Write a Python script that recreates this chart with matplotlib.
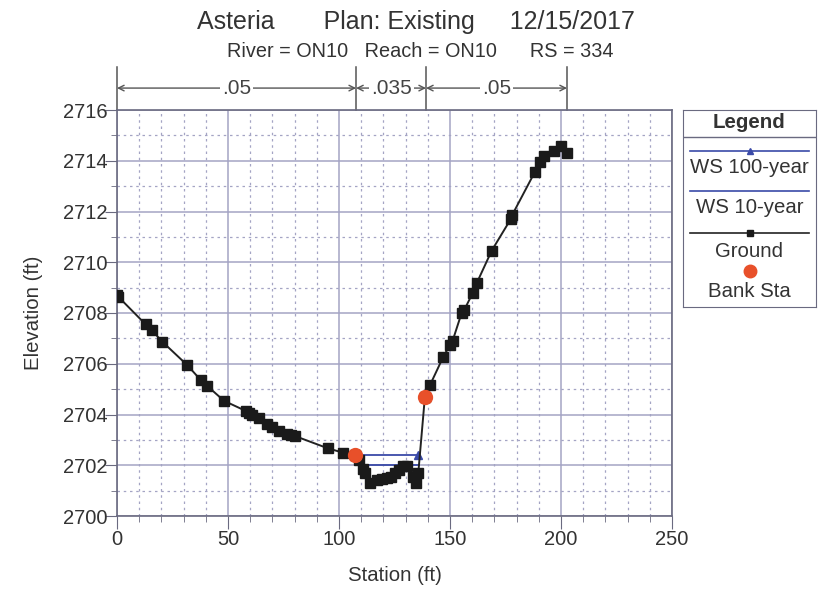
import matplotlib
matplotlib.use('Agg')
import matplotlib.pyplot as plt
from matplotlib.ticker import MultipleLocator

plt.rcParams['font.family'] = ['Liberation Sans', 'DejaVu Sans']

# ground profile (station ft, elevation ft)
ground_sta = [0, 0.6, 12.9, 15.6, 20.4, 31.7, 37.7, 40.7, 48.2, 58.0, 59.5, 61.0,
              64.0, 67.4, 69.7, 73.0, 76.4, 78.2, 80.2, 94.9, 101.6, 107.2, 109.2,
              111.0, 111.7, 114.0, 117.0, 119.2, 121.5, 123.4, 125.2, 127.0, 129.0,
              130.5, 133.5, 134.7, 135.7, 138.7, 141.0, 147.0, 150.0, 151.2, 155.2,
              156.4, 160.2, 162.0, 168.8, 177.3, 178.0, 188.3, 190.5, 192.5, 196.7,
              200.0, 202.6]
ground_elev = [2708.7, 2708.64, 2707.55, 2707.33, 2706.87, 2705.94, 2705.36, 2705.12,
               2704.54, 2704.14, 2704.05, 2703.98, 2703.87, 2703.63, 2703.5, 2703.36,
               2703.22, 2703.19, 2703.15, 2702.67, 2702.5, 2702.4, 2702.21, 2701.84,
               2701.68, 2701.31, 2701.42, 2701.45, 2701.48, 2701.55, 2701.71, 2701.81,
               2701.97, 2701.97, 2701.55, 2701.29, 2701.68, 2704.7, 2705.16, 2706.28,
               2706.74, 2706.91, 2707.99, 2708.12, 2708.78, 2709.17, 2710.46, 2711.69,
               2711.86, 2713.57, 2713.95, 2714.2, 2714.4, 2714.57, 2714.32]

# water surfaces
ws100_sta = [108.2, 135.7]
ws100_elev = [2702.42, 2702.42]
ws10_sta = [110.2, 136.2]
ws10_elev = [2702.0, 2702.0]

# bank stations
bank_sta = [107.2, 138.7]
bank_elev = [2702.4, 2704.7]

# manning's n regions
n_bounds = [0, 107.7, 139.2, 202.7]
n_values = ['.05', '.035', '.05']

title = 'Asteria       Plan: Existing     12/15/2017'
subtitle = 'River = ON10   Reach = ON10      RS = 334'

grid_col = '#a4a4c4'
blue = '#3a4aa8'
txt = '#333333'

fig = plt.figure(figsize=(8.18, 5.94), dpi=100)
ax = fig.add_axes([117 / 818, 1 - 516 / 594, 555 / 818, 406 / 594])

ax.set_xlim(0, 250)
ax.set_ylim(2700, 2716)
ax.xaxis.set_major_locator(MultipleLocator(50))
ax.xaxis.set_minor_locator(MultipleLocator(10))
ax.yaxis.set_major_locator(MultipleLocator(2))
ax.yaxis.set_minor_locator(MultipleLocator(1))
ax.grid(which='major', color=grid_col, lw=1.1, ls='-')
ax.grid(which='minor', color=grid_col, lw=0.9, ls=(0, (2, 3)))
ax.set_axisbelow(True)
for s in ax.spines.values():
    s.set_color('#6a6a80')
    s.set_linewidth(1.2)
ax.tick_params(which='major', direction='out', length=9, pad=1, color='#6a6a80',
               labelsize=14.5, labelcolor=txt)
ax.tick_params(axis='y', which='major', pad=-2)
ax.tick_params(which='minor', direction='out', length=4, color='#6a6a80')

ax.plot(ws10_sta, ws10_elev, color=blue, lw=1.3, zorder=3)
ax.plot(ws100_sta, ws100_elev, color=blue, lw=1.3, marker='^', ms=6, zorder=3)
ax.plot(ground_sta, ground_elev, color='#222222', lw=1.4, marker='s', ms=6.5,
        mfc='#1a1a1a', mec='#1a1a1a', zorder=4)
ax.plot(bank_sta, bank_elev, ls='none', marker='o', ms=10, color='#e8502a', zorder=5)

ax.set_xlabel('Station (ft)', fontsize=14.7, color=txt, labelpad=12)
ax.set_ylabel('Elevation (ft)', fontsize=14.7, color=txt, labelpad=14)

# manning's n annotation above the plot
tr = ax.get_xaxis_transform()
for b in n_bounds:
    ax.plot([b, b], [1.0, 1.106], transform=tr, color='#555555', lw=1.1, clip_on=False)
for i, v in enumerate(n_values):
    x0, x1 = n_bounds[i], n_bounds[i + 1]
    ax.annotate('', xy=(x0, 1.054), xytext=(x1, 1.054), xycoords=tr, textcoords=tr,
                arrowprops=dict(arrowstyle='<->', color='#555555', lw=1.0,
                                shrinkA=0, shrinkB=0))
    ax.text((x0 + x1) / 2, 1.054, v, transform=tr, ha='center', va='center',
            fontsize=15, color='#444444',
            bbox=dict(facecolor='white', edgecolor='none', pad=1.5), zorder=6)

fig.text(0.508, 0.963, title, ha='center', va='center', fontsize=18, color=txt)
fig.text(0.514, 0.913, subtitle, ha='center', va='center', fontsize=14.3, color=txt)

# legend box
lg = fig.add_axes([683 / 818, 1 - 307 / 594, 133 / 818, 197 / 594])
lg.set_xlim(0, 1)
lg.set_ylim(0, 1)
lg.set_xticks([])
lg.set_yticks([])
for s in lg.spines.values():
    s.set_color('#6a6a80')
lg.text(0.5, 0.936, 'Legend', ha='center', va='center', fontsize=14.8, fontweight='bold',
        color=txt)
lg.plot([0, 1], [0.864, 0.864], color='#6a6a80', lw=1)
lg.plot([0.05, 0.95], [0.793, 0.793], color=blue, lw=1.2)
lg.plot([0.5], [0.793], marker='^', ms=5, color=blue)
lg.text(0.5, 0.706, 'WS 100-year', ha='center', va='center', fontsize=14.7, color=txt)
lg.plot([0.05, 0.95], [0.59, 0.59], color=blue, lw=1.2)
lg.text(0.5, 0.503, 'WS 10-year', ha='center', va='center', fontsize=14.7, color=txt)
lg.plot([0.05, 0.95], [0.376, 0.376], color='#222222', lw=1.2)
lg.plot([0.5], [0.376], marker='s', ms=5, color='#1a1a1a')
lg.text(0.5, 0.284, 'Ground', ha='center', va='center', fontsize=14.7, color=txt)
lg.plot([0.5], [0.181], marker='o', ms=9, color='#e8502a')
lg.text(0.5, 0.079, 'Bank Sta', ha='center', va='center', fontsize=14.7, color=txt)

fig.savefig('out.png', dpi=100)
